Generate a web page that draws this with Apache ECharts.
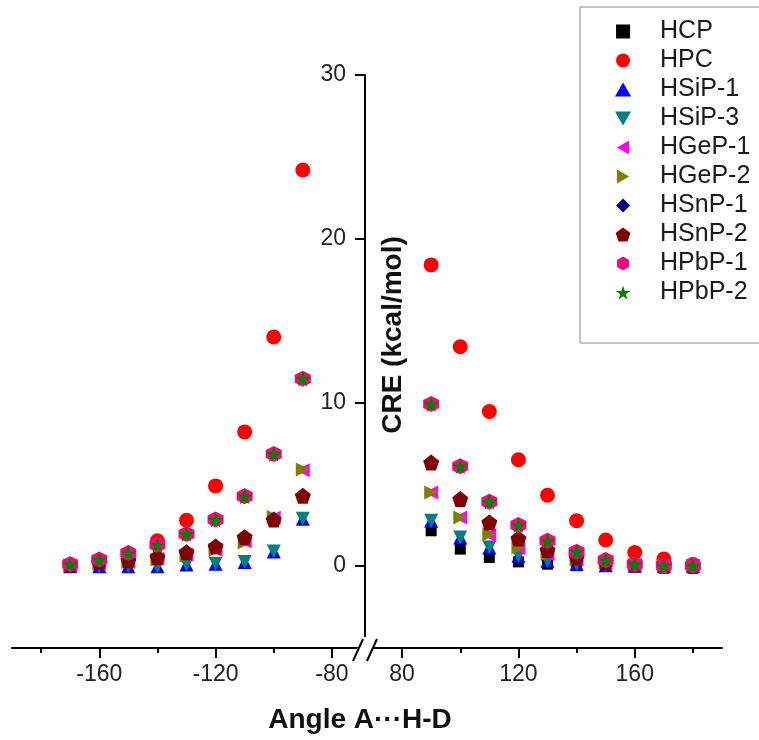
<!DOCTYPE html>
<html>
<head>
<meta charset="utf-8">
<script src="https://cdn.jsdelivr.net/npm/echarts@6/dist/echarts.min.js"></script>
<style>html,body{margin:0;padding:0;background:#fff;}#c{width:759px;height:740px;}</style>
</head>
<body>
<div id="c"></div>
<script>
// ---- data ----
const anglesLeft = [-170, -160, -150, -140, -130, -120, -110, -100, -90];
const anglesRight = [90, 100, 110, 120, 130, 140, 150, 160, 170, 180];

const hcpRight   = [2.16, 1.04, 0.53, 0.26, 0.12, 0.03, 0.01, 0, 0, 0];
const hpcLeft    = [0.1, 0.3, 0.75, 1.55, 2.8, 4.9, 8.2, 14.0, 24.2];
const hpcRight   = [18.4, 13.4, 9.45, 6.5, 4.33, 2.77, 1.6, 0.83, 0.43, 0.1];
const hsip1Left  = [0, 0, 0, 0, 0.1, 0.15, 0.26, 0.9, 2.9];
const hsip1Right = [2.77, 1.75, 1.14, 0.63, 0.33, 0.15, 0.06, 0.02, 0, 0];
const hsip3Left  = [0, 0, 0, 0, 0.1, 0.15, 0.26, 0.9, 2.9];
const hsip3Right = [2.77, 1.75, 1.14, 0.63, 0.33, 0.15, 0.06, 0.02, 0, 0];
const hgep1Left  = [0.05, 0.15, 0.25, 0.45, 0.7, 1.0, 1.5, 2.95, 5.85];
const hgep1Right = [4.5, 2.97, 1.88, 1.1, 0.73, 0.4, 0.2, 0.08, 0.02, 0];
const hgep2Left  = [0.05, 0.15, 0.25, 0.4, 0.65, 1.0, 1.45, 3.0, 5.9];
const hgep2Right = [4.5, 2.97, 1.95, 1.14, 0.73, 0.4, 0.2, 0.08, 0.02, 0];
const hsnp1Left  = [0.08, 0.25, 0.35, 0.55, 0.85, 1.2, 1.77, 2.85, 4.3];
const hsnp1Right = [6.33, 4.1, 2.67, 1.69, 0.98, 0.53, 0.25, 0.1, 0.03, 0.01];
const hsnp2Left  = [0.08, 0.25, 0.35, 0.55, 0.85, 1.2, 1.77, 2.85, 4.3];
const hsnp2Right = [6.33, 4.1, 2.67, 1.69, 0.98, 0.53, 0.25, 0.1, 0.03, 0.01];
const hpbp1Left  = [0.12, 0.4, 0.8, 1.3, 1.97, 2.85, 4.27, 6.85, 11.45];
const hpbp1Right = [9.9, 6.1, 3.93, 2.52, 1.55, 0.88, 0.37, 0.12, 0.04, 0.02];
const hpbp2Left  = [0.12, 0.4, 0.8, 1.3, 1.97, 2.85, 4.27, 6.85, 11.45];
const hpbp2Right = [9.9, 6.1, 3.93, 2.52, 1.55, 0.88, 0.37, 0.12, 0.04, 0.02];

const yTicks = [0, 10, 20, 30];
const xTicksLeft = [-160, -120, -80];
const xMinorLeft = [-180, -140, -100];
const xTicksRight = [80, 120, 160];
const xMinorRight = [100, 140, 180];

const SQUARE = 'path://M0,0 L100,0 L100,100 L0,100 Z';
const TRI_UP = 'path://M50,0 L100,87 L0,87 Z';
const TRI_DOWN = 'path://M0,0 L100,0 L50,87 Z';
const TRI_LEFT = 'path://M0,50 L87,0 L87,100 Z';
const TRI_RIGHT = 'path://M0,0 L87,50 L0,100 Z';
const DIAMOND = 'path://M50,0 L100,50 L50,100 L0,50 Z';
const PENTAGON = 'path://M50,0 L98,35 L79,91 L21,91 L2,35 Z';
const HEXAGON = 'path://M50,0 L93,25 L93,75 L50,100 L7,75 L7,25 Z';
const STAR = 'path://M50,0 L61,35 L98,35 L68,57 L79,91 L50,70 L21,91 L32,57 L2,35 L39,35 Z';

const seriesDefs = [
  {name: 'HCP',    color: '#000000', symbol: SQUARE, size: 11, left: null, right: hcpRight},
  {name: 'HPC',    color: '#ff0000', symbol: 'circle', size: 15, left: hpcLeft, right: hpcRight},
  {name: 'HSiP-1', color: '#0000ff', symbol: TRI_UP, size: 14, left: hsip1Left, right: hsip1Right},
  {name: 'HSiP-3', color: '#008080', symbol: TRI_DOWN, size: 14, left: hsip3Left, right: hsip3Right},
  {name: 'HGeP-1', color: '#ff00ff', symbol: TRI_LEFT, size: 14, left: hgep1Left, right: hgep1Right},
  {name: 'HGeP-2', color: '#808000', symbol: TRI_RIGHT, size: 14, left: hgep2Left, right: hgep2Right},
  {name: 'HSnP-1', color: '#000080', symbol: DIAMOND, size: 15, left: hsnp1Left, right: hsnp1Right},
  {name: 'HSnP-2', color: '#800000', symbol: PENTAGON, size: 16, left: hsnp2Left, right: hsnp2Right},
  {name: 'HPbP-1', color: '#ff0080', symbol: HEXAGON, size: 16, left: hpbp1Left, right: hpbp1Right},
  {name: 'HPbP-2', color: '#008000', symbol: STAR, size: 16, left: hpbp2Left, right: hpbp2Right}
];

const FONT = '"Liberation Sans", Arial, sans-serif';

const series = [];
seriesDefs.forEach(function (d) {
  if (d.left) {
    series.push({
      name: d.name, type: 'scatter', xAxisIndex: 0, yAxisIndex: 0,
      symbol: d.symbol, symbolSize: d.size, itemStyle: {color: d.color, opacity: 1},
      data: anglesLeft.map(function (a, i) { return [a, d.left[i]]; })
    });
  }
  series.push({
    name: d.name, type: 'scatter', xAxisIndex: 2, yAxisIndex: 1,
    symbol: d.symbol, symbolSize: d.size, itemStyle: {color: d.color, opacity: 1},
    data: anglesRight.map(function (a, i) { return [a, d.right[i]]; })
  });
});

function xAxisMajor(grid, min, max, ticks) {
  return {
    type: 'value', gridIndex: grid, min: min, max: max, position: 'bottom',
    axisLine: {show: true, onZero: false, lineStyle: {color: '#000', width: 2}},
    axisTick: {show: true, customValues: ticks, length: 10, lineStyle: {color: '#000', width: 2}},
    axisLabel: {show: true, customValues: ticks, margin: 15, fontSize: 23, color: '#222', fontFamily: FONT},
    splitLine: {show: false}
  };
}
function xAxisMinor(grid, min, max, ticks) {
  return {
    type: 'value', gridIndex: grid, min: min, max: max, position: 'bottom',
    axisLine: {show: false, onZero: false},
    axisTick: {show: true, customValues: ticks, length: 5, lineStyle: {color: '#000', width: 2}},
    axisLabel: {show: false},
    splitLine: {show: false}
  };
}

const option = {
  backgroundColor: '#fff',
  animation: false,
  grid: [
    {left: 12, top: 75, width: 349, height: 573},
    {left: 373, top: 75, width: 349, height: 573}
  ],
  xAxis: [
    xAxisMajor(0, -190, -70, xTicksLeft),
    xAxisMinor(0, -190, -70, xMinorLeft),
    xAxisMajor(1, 70, 190, xTicksRight),
    xAxisMinor(1, 70, 190, xMinorRight)
  ],
  yAxis: [
    {type: 'value', gridIndex: 0, min: -5, max: 30, show: false},
    {
      type: 'value', gridIndex: 1, min: -5, max: 30, position: 'left', offset: 8,
      axisLine: {show: true, onZero: false, lineStyle: {color: '#000', width: 2}},
      axisTick: {show: true, customValues: yTicks, length: 10, lineStyle: {color: '#000', width: 2}},
      axisLabel: {show: true, customValues: yTicks, margin: 19, fontSize: 23, color: '#222', fontFamily: FONT},
      splitLine: {show: false}
    }
  ],
  legend: {
    orient: 'vertical', left: 580, top: 7,
    data: seriesDefs.map(function (d) { return d.name; }),
    itemWidth: 64, itemHeight: 14, itemGap: 0,
    padding: [10, 12, 36, 35],
    borderColor: '#888', borderWidth: 1, backgroundColor: '#fff',
    textStyle: {fontSize: 25, lineHeight: 29, color: '#1a1a1a', fontFamily: FONT}
  },
  graphic: [
    {type: 'polygon', z: 100, shape: {points: [[352, 662], [362, 637], [378, 637], [368, 662]]}, style: {fill: '#fff'}},
    {type: 'line', z: 101, shape: {x1: 353, y1: 661, x2: 363, y2: 639}, style: {stroke: '#000', lineWidth: 2}},
    {type: 'line', z: 101, shape: {x1: 367, y1: 661, x2: 377, y2: 639}, style: {stroke: '#000', lineWidth: 2}},
    {type: 'text', z: 100, x: 360, y: 720, style: {text: 'Angle A\u00b7\u00b7\u00b7H-D', font: 'bold 28px ' + FONT, fill: '#111', align: 'center', verticalAlign: 'middle'}},
    {type: 'text', z: 100, x: 393, y: 335, rotation: Math.PI / 2, style: {text: 'CRE (kcal/mol)', font: 'bold 28px ' + FONT, fill: '#111', align: 'center', verticalAlign: 'middle'}}
  ],
  series: series
};

const chart = echarts.init(document.getElementById('c'), null, {renderer: 'canvas'});
chart.setOption(option);
</script>
</body>
</html>
